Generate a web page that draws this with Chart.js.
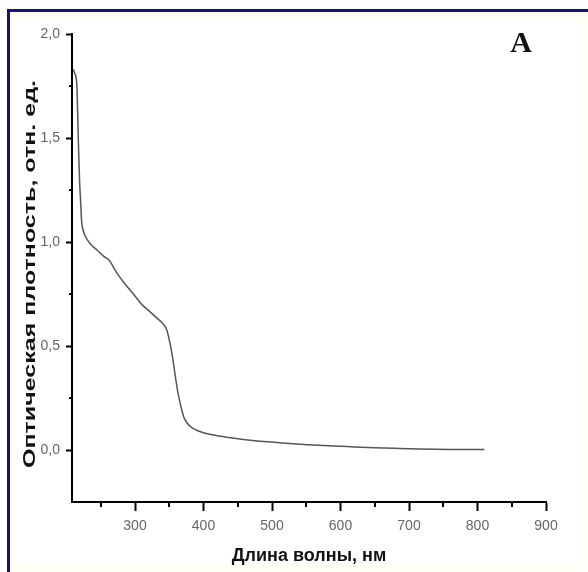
<!DOCTYPE html>
<html><head><meta charset="utf-8">
<script src="https://cdn.jsdelivr.net/npm/chart.js@4"></script>
<style>html,body{margin:0;padding:0;background:#fff}canvas{display:block}</style>
</head><body>
<canvas id="c" width="588" height="572"></canvas>
<script>
const wavelengths = [210,212,215,217,219,221,222,224,227,235,245,255,263,270,278,290,300,310,320,330,340,346,350,353,356,359,363,367,371,376,382,390,400,425,450,475,500,530,560,590,620,650,680,715,760,810];
const absorbance  = [1.83,1.81,1.76,1.52,1.30,1.17,1.10,1.06,1.03,0.99,0.96,0.93,0.91,0.87,0.83,0.78,0.74,0.70,0.67,0.64,0.61,0.58,0.53,0.48,0.42,0.35,0.27,0.21,0.16,0.13,0.11,0.095,0.083,0.066,0.054,0.045,0.038,0.030,0.024,0.019,0.015,0.011,0.008,0.005,0.003,0.002];
const xTickValues = [300,400,500,600,700,800,900];
const xMinorTicks = [250,350,450,550,650,750,850];
const yTickValues = [0,0.5,1,1.5,2];
const yMinorTicks = [0.25,0.75,1.25,1.75];
const xTitle = 'Длина волны, нм';
const yTitle = 'Оптическая плотность, отн. ед.';
const panelLabel = 'A';

const tickFont = {family:'"Liberation Sans", Arial, sans-serif', size:14};

const framePlugin = {
  id:'frame',
  beforeDraw(chart){
    const ctx = chart.ctx;
    ctx.save();
    ctx.fillStyle = '#ffffff';
    ctx.fillRect(0,0,chart.width,chart.height);
    ctx.fillStyle = '#fefef7';
    ctx.fillRect(10,12,578,10);
    ctx.fillRect(582,12,6,560);
    ctx.fillRect(10,561,578,11);
    ctx.fillRect(10,12,6,560);
    ctx.fillStyle = '#12127a';
    ctx.fillRect(7,9,581,3);
    ctx.fillRect(7,9,3,563);
    ctx.restore();
  },
  afterDraw(chart){
    const ctx = chart.ctx;
    const xs = chart.scales.x, ys = chart.scales.y;
    ctx.save();
    ctx.strokeStyle = '#000';
    ctx.lineWidth = 2;
    xMinorTicks.forEach(v=>{
      const px = Math.round(xs.getPixelForValue(v));
      ctx.beginPath(); ctx.moveTo(px, xs.top); ctx.lineTo(px, xs.top+5); ctx.stroke();
    });
    yMinorTicks.forEach(v=>{
      const py = Math.round(ys.getPixelForValue(v));
      ctx.beginPath(); ctx.moveTo(ys.right, py); ctx.lineTo(ys.right-3, py); ctx.stroke();
    });
    // y axis title (stretched as in the reference)
    ctx.font = 'bold 16px "Liberation Sans", Arial, sans-serif';
    const w = ctx.measureText(yTitle).width;
    ctx.translate(31, 274);
    ctx.rotate(-Math.PI/2);
    ctx.scale(388/w, 1);
    ctx.textAlign = 'center';
    ctx.textBaseline = 'middle';
    ctx.fillStyle = '#111';
    ctx.fillText(yTitle, 0, 0);
    ctx.restore();
    ctx.save();
    ctx.font = 'bold 30px "Liberation Serif", "DejaVu Serif", serif';
    ctx.textAlign = 'center';
    ctx.textBaseline = 'alphabetic';
    ctx.fillStyle = '#111';
    ctx.fillText(panelLabel, 521, 52);
    ctx.restore();
  }
};

new Chart(document.getElementById('c'), {
  type:'line',
  data:{
    datasets:[{
      data: wavelengths.map((x,i)=>({x, y:absorbance[i]})),
      borderColor:'#555555',
      borderWidth:1.5,
      pointRadius:0,
      fill:false,
      cubicInterpolationMode:'monotone'
    }]
  },
  options:{
    responsive:false,
    animation:false,
    devicePixelRatio:1,
    layout:{padding:{top:34,right:42,left:0,bottom:0}},
    plugins:{legend:{display:false}, tooltip:{enabled:false}},
    scales:{
      x:{
        type:'linear', min:208, max:900,
        afterBuildTicks: s => { s.ticks = xTickValues.map(v=>({value:v})); },
        afterFit: s => { s.height = 70; },
        ticks:{callback: v => String(v), font:tickFont, color:'#666', padding:7, maxRotation:0, autoSkip:false},
        grid:{drawOnChartArea:false, drawTicks:true, tickLength:9, tickColor:'#000', tickWidth:2},
        border:{display:true, color:'#000', width:2},
        title:{display:true, text:xTitle, color:'#111', font:{family:'"Liberation Sans", Arial, sans-serif', size:18, weight:'bold'}, padding:{top:0,bottom:5}}
      },
      y:{
        type:'linear', min:-0.25, max:2,
        afterBuildTicks: s => { s.ticks = yTickValues.map(v=>({value:v})); },
        afterFit: s => { s.width = 72; },
        ticks:{callback: v => v.toFixed(1).replace('.', ','), font:tickFont, color:'#666', padding:6, autoSkip:false},
        grid:{drawOnChartArea:false, drawTicks:true, tickLength:6, tickColor:'#000', tickWidth:2},
        border:{display:true, color:'#000', width:2}
      }
    }
  },
  plugins:[framePlugin]
});
</script>
</body></html>
